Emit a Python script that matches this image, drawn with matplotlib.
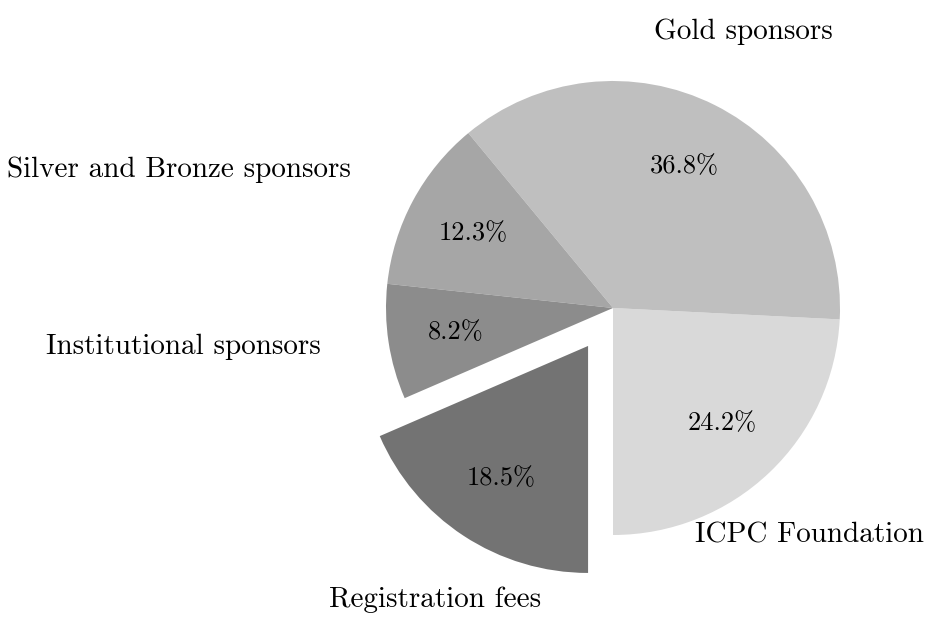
import matplotlib
matplotlib.use('Agg')
import matplotlib.pyplot as plt

plt.rcParams['font.family'] = 'serif'
plt.rcParams['font.serif'] = ['cmr10']
plt.rcParams['mathtext.fontset'] = 'cm'
plt.rcParams['axes.unicode_minus'] = False

# slices counterclockwise from 6 o'clock
labels = ['ICPC Foundation', 'Gold sponsors', 'Silver and Bronze sponsors',
          'Institutional sponsors', 'Registration fees']
shares = [24.2, 36.8, 12.3, 8.2, 18.5]
colors = ['#d9d9d9', '#bfbfbf', '#a6a6a6', '#8c8c8c', '#737373']
explode = [0, 0, 0, 0, 0.2]

# label anchors (data units, radius = 1)
label_pos = [(0.866, -1.0), (0.573, 1.216), (-1.914, 0.608),
             (-1.892, -0.172), (-0.782, -1.286)]

fig = plt.figure(figsize=(9.27, 6.19), dpi=100)
ax = fig.add_axes([0, 0, 1, 1])

wedges, texts, pcts = ax.pie(shares, colors=colors, explode=explode,
                             startangle=-90, counterclock=True,
                             autopct='%.1f%%', pctdistance=0.7,
                             wedgeprops=dict(linewidth=0))
for t in pcts:
    t.set_fontsize(19)

for lab, (x, y) in zip(labels, label_pos):
    ax.text(x, y, lab, ha='center', va='center', fontsize=21)

ax.set_aspect('equal')
ax.set_xlim(-613/227, (927-613)/227)
ax.set_ylim(-311/227, 308/227)
ax.axis('off')

fig.savefig('out.png', dpi=100)
